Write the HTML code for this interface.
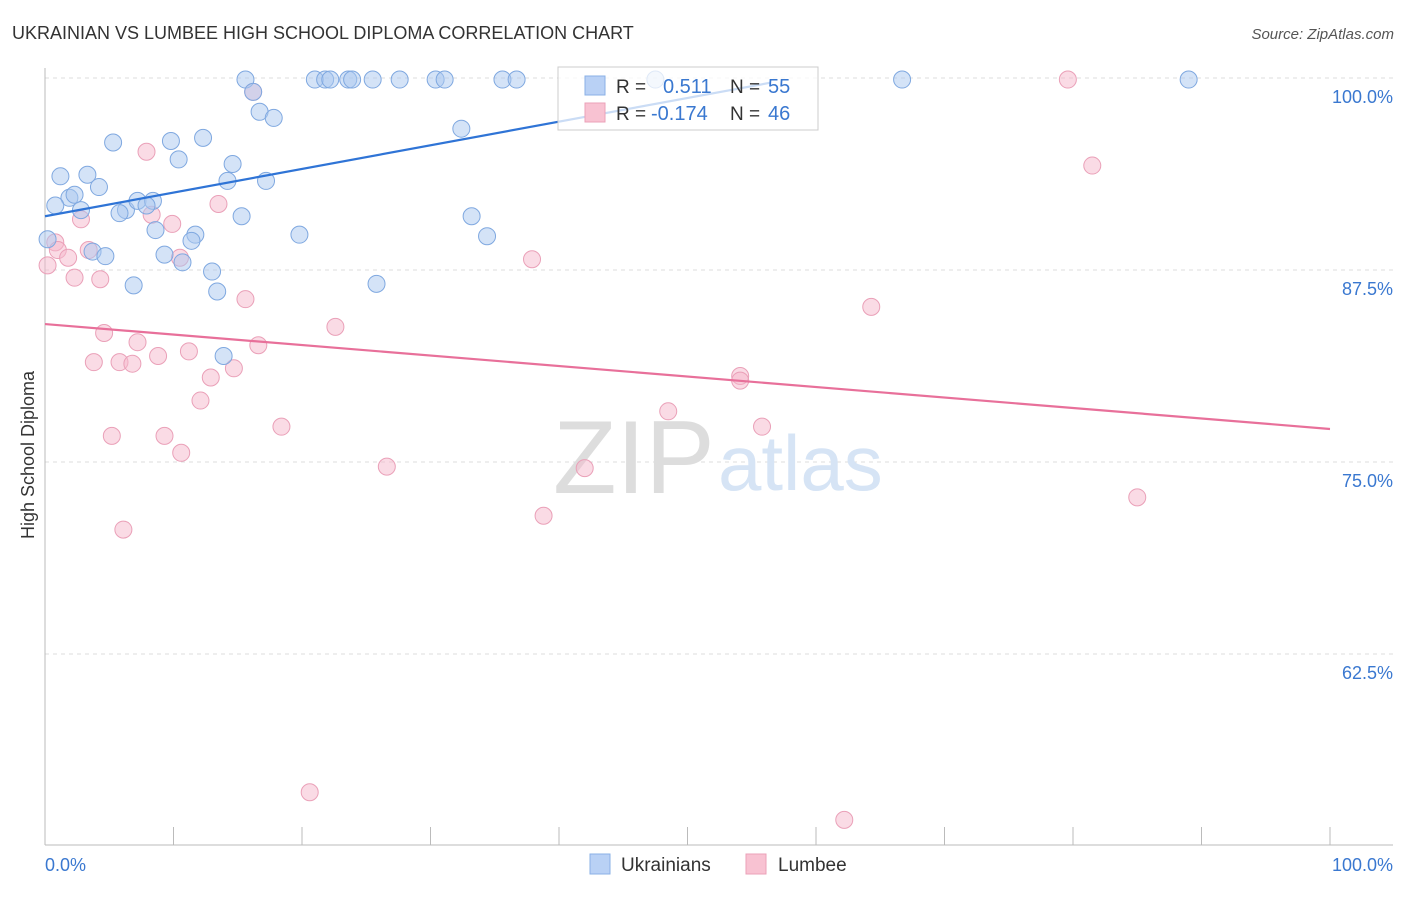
<!DOCTYPE html>
<html><head><meta charset="utf-8"><style>
body{margin:0;background:#fff;font-family:"Liberation Sans",sans-serif}
svg text{font-family:"Liberation Sans",sans-serif}
</style></head><body>
<svg id="c" width="1406" height="892" xmlns="http://www.w3.org/2000/svg">
<text x="12" y="39" font-size="18" fill="#333">UKRAINIAN VS LUMBEE HIGH SCHOOL DIPLOMA CORRELATION CHART</text>
<text x="1394" y="39" font-size="15" fill="#555" font-style="italic" text-anchor="end">Source: ZipAtlas.com</text>
<g id="grid"></g>
<g>
<text x="553" y="493" font-size="104" fill="#ddd" font-family="Liberation Serif">ZIP</text>
<text x="718" y="490" font-size="78" fill="#d6e4f5">atlas</text>
</g>
<g id="axes"></g>
<g id="pts"></g>
<g id="trends"></g>
<text transform="translate(34,455) rotate(-90)" font-size="18" fill="#333" text-anchor="middle">High School Diploma</text>
<g>
<rect x="558" y="67" width="260" height="63" fill="#fff" fill-opacity="0.75" stroke="#ccc"/>
<rect x="585" y="76" width="20" height="19" fill="#b9d1f5" stroke="#8ab0e6"/>
<rect x="585" y="103" width="20" height="19" fill="#f8c2d2" stroke="#eba1b8"/>
<text x="616" y="93" font-size="19" fill="#333">R = </text><text x="663" y="93" font-size="20" fill="#3a78d0">0.511</text>
<text x="730" y="93" font-size="19" fill="#333">N = </text><text x="768" y="93" font-size="20" fill="#3a78d0">55</text>
<text x="616" y="120" font-size="19" fill="#333">R = </text><text x="651" y="120" font-size="20" fill="#3a78d0">-0.174</text>
<text x="730" y="120" font-size="19" fill="#333">N = </text><text x="768" y="120" font-size="20" fill="#3a78d0">46</text>
</g>
<g>
<rect x="590" y="854" width="20" height="20" fill="#b9d1f5" stroke="#8ab0e6"/>
<text x="621" y="871" font-size="19" fill="#333">Ukrainians</text>
<rect x="746" y="854" width="20" height="20" fill="#f8c2d2" stroke="#eba1b8"/>
<text x="778" y="871" font-size="19" fill="#333">Lumbee</text>
</g>
</svg>
<script>
const yTicks=[100,87.5,75,62.5];
const yTickLabels=["100.0%","87.5%","75.0%","62.5%"];
const xTickLabels=["0.0%","100.0%"];
const blueX=[15.6,16.2,16.7,17.8,21.0,21.8,22.2,23.6,23.9,25.5,27.6,30.4,31.1,35.6,36.7,47.5,66.7,89.0,32.4,5.3,9.8,12.3,10.4,14.6,1.2,3.3,4.2,14.2,17.2,1.9,2.3,0.8,2.8,6.3,7.2,8.4,7.9,5.8,15.3,33.2,8.6,11.7,11.4,19.8,34.4,3.7,4.7,9.3,10.7,13.0,6.9,25.8,13.4,13.9,0.2];
const blueY=[99.9,99.1,97.8,97.4,99.9,99.9,99.9,99.9,99.9,99.9,99.9,99.9,99.9,99.9,99.9,99.9,99.9,99.9,96.7,95.8,95.9,96.1,94.7,94.4,93.6,93.7,92.9,93.3,93.3,92.2,92.4,91.7,91.4,91.4,92.0,92.0,91.7,91.2,91.0,91.0,90.1,89.8,89.4,89.8,89.7,88.7,88.4,88.5,88.0,87.4,86.5,86.6,86.1,81.9,89.5];
const pinkX=[79.6,16.2,7.9,81.5,13.5,8.3,2.8,9.9,0.8,1.0,3.4,1.8,10.5,37.9,2.3,4.3,15.6,64.3,22.6,4.6,7.2,16.6,11.2,8.8,3.8,5.8,6.8,14.7,12.9,54.1,54.1,12.1,48.5,18.4,55.8,5.2,9.3,10.6,26.6,42.0,85.0,38.8,6.1,20.6,62.2,0.2];
const pinkY=[99.9,99.1,95.2,94.3,91.8,91.1,90.8,90.5,89.3,88.8,88.8,88.3,88.3,88.2,87.0,86.9,85.6,85.1,83.8,83.4,82.8,82.6,82.2,81.9,81.5,81.5,81.4,81.1,80.5,80.6,80.3,79.0,78.3,77.3,77.3,76.7,76.7,75.6,74.7,74.6,72.7,71.5,70.6,53.5,51.7,87.8];
const blueTrend=[91.0,0.154];
const pinkTrend=[83.98,-0.0683];
const NS="http://www.w3.org/2000/svg";
const X0=45,X1=1330,Ytop=78,PX=15.36;
function xs(v){return X0+(X1-X0)*v/100;}
function ys(v){return Ytop+(100-v)*PX;}
function mk(t,a,p){const e=document.createElementNS(NS,t);for(const k in a)e.setAttribute(k,a[k]);p.appendChild(e);return e;}
const grid=document.getElementById('grid'),axes=document.getElementById('axes');
yTicks.forEach((t,i)=>{
  const l=mk('line',{x1:X0,x2:1393,y1:ys(t),y2:ys(t),stroke:'#ddd','stroke-dasharray':'4,4'},grid);
  
  
  const tx=mk('text',{x:1393,y:ys(t)+25,'font-size':18,fill:'#3a78d0','text-anchor':'end'},axes);
  tx.textContent=yTickLabels[i];
  
  
});
let a=mk('line',{x1:X0,x2:X0,y1:68,y2:845,stroke:'#bbb'},axes);


a=mk('line',{x1:X0,x2:1393,y1:845,y2:845,stroke:'#bbb'},axes);


for(let i=0;i<=10;i++){
  const t=mk('line',{x1:xs(i*10),x2:xs(i*10),y1:827,y2:845,stroke:'#bbb'},axes);
  
  
}
[[0,'start'],[100,'end']].forEach((d,i)=>{
  const t=mk('text',{x:i?1393:45,y:871,'font-size':18,fill:'#3a78d0','text-anchor':d[1]},axes);
  t.textContent=xTickLabels[i];
  
  
});
const pts=document.getElementById('pts');
pinkX.forEach((x,i)=>{
  const c=mk('circle',{cx:xs(x),cy:ys(pinkY[i]),r:8.5,fill:'#f6b8cb','fill-opacity':0.5,stroke:'#eaa0b8','stroke-width':1},pts);
  
  
});
blueX.forEach((x,i)=>{
  const c=mk('circle',{cx:xs(x),cy:ys(blueY[i]),r:8.5,fill:'#a9c8f0','fill-opacity':0.5,stroke:'#7fa8e0','stroke-width':1},pts);
  
  
});
const tr=document.getElementById('trends');
let l=mk('line',{x1:xs(0),y1:ys(blueTrend[0]),x2:xs(56.4),y2:ys(blueTrend[0]+blueTrend[1]*56.4),stroke:'#2f74d6','stroke-width':2.2},tr);


l=mk('line',{x1:xs(0),y1:ys(pinkTrend[0]),x2:xs(100),y2:ys(pinkTrend[0]+pinkTrend[1]*100),stroke:'#e8709a','stroke-width':2.2},tr);


</script>
</body></html>
